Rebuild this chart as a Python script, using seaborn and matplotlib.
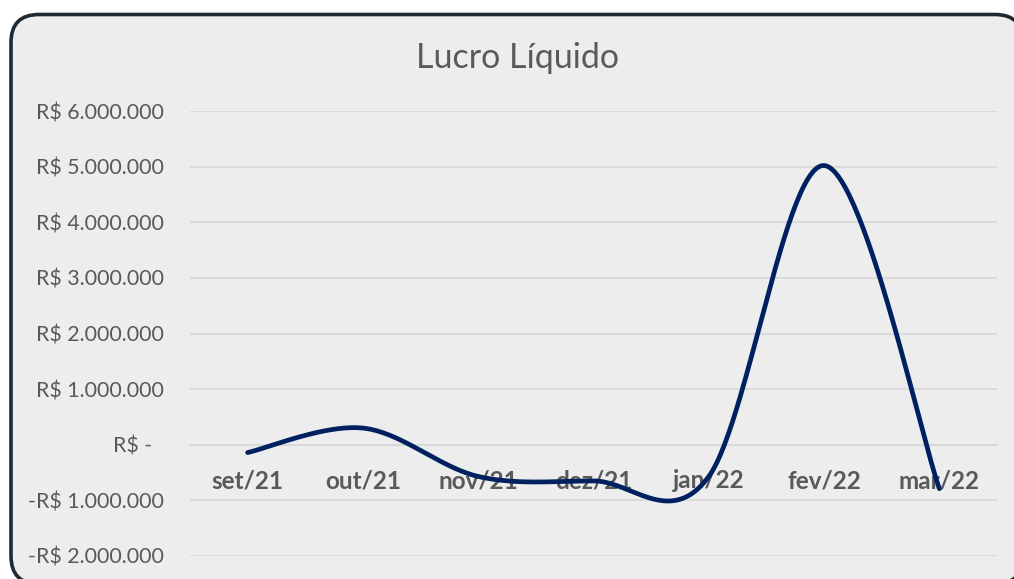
import numpy as np
import pandas as pd
import matplotlib
matplotlib.use("Agg")
import matplotlib.pyplot as plt
import seaborn as sns
from matplotlib.patches import FancyBboxPatch
from matplotlib.transforms import IdentityTransform
from matplotlib.ticker import FuncFormatter, MultipleLocator

# ---- data ----
months = ["set/21", "out/21", "nov/21", "dez/21", "jan/22", "fev/22", "mar/22"]
lucro = [-140000, 300000, -570000, -650000, -570000, 5020000, -790000]
title = "Lucro Líquido"

sns.set_style("white")
plt.rcParams['font.family'] = ['Lato', 'DejaVu Sans']

W, H = 1014, 579
fig = plt.figure(figsize=(W / 100, H / 100), dpi=100)
fig.patch.set_facecolor("white")

# rounded chart-area frame (pixels)
frame = FancyBboxPatch((11, H - 584), 1023 - 11, 584 - 14.5,
                       boxstyle="round,pad=0,rounding_size=28",
                       transform=IdentityTransform(), facecolor="#ededed",
                       edgecolor="#1f2a37", linewidth=2.6, clip_on=False, zorder=-10)
fig.patches.append(frame)

ax = fig.add_axes([190 / W, 1 - 556 / H, (997 - 190) / W, (556 - 111) / H])
ax.set_facecolor("none")
ax.set_zorder(5)


def excel_smooth(x, y, n=60):
    pts = np.column_stack([x, y]).astype(float)
    P = np.vstack([pts[0], pts, pts[-1]])
    out = []
    t = np.linspace(0, 1, n)[:, None]
    for i in range(len(pts) - 1):
        p0, p1, p2, p3 = P[i], P[i + 1], P[i + 2], P[i + 3]
        c1 = p1 + (p2 - p0) / 6
        c2 = p2 - (p3 - p1) / 6
        b = (1 - t) ** 3 * p1 + 3 * (1 - t) ** 2 * t * c1 + 3 * (1 - t) * t ** 2 * c2 + t ** 3 * p2
        out.append(b if i == 0 else b[1:])
    return np.vstack(out)


xi = np.arange(len(months))
curve = excel_smooth(xi, lucro)
df = pd.DataFrame({"x": curve[:, 0], "y": curve[:, 1]})
sns.lineplot(data=df, x="x", y="y", sort=False, estimator=None, ax=ax,
             color="#002060", linewidth=3.4, zorder=3)
ax.lines[-1].set_solid_capstyle("round")

ax.set_xlim(-0.5, len(months) - 0.5)
ax.set_ylim(-2000000, 6000000)
ax.yaxis.set_major_locator(MultipleLocator(1000000))


def fmt(v, pos):
    if abs(v) < 1:
        return "R$ -  "
    s = f"{abs(v):,.0f}".replace(",", ".")
    return ("-R$ " if v < 0 else "R$ ") + s


ax.yaxis.set_major_formatter(FuncFormatter(fmt))
ax.grid(False)
ax.yaxis.grid(True, color="#d9d9d9", linewidth=1.3, zorder=1)
for s in ["top", "right", "left"]:
    ax.spines[s].set_visible(False)
ax.spines["bottom"].set_position(("data", 0))
ax.spines["bottom"].set_color("#d9d9d9")
ax.spines["bottom"].set_linewidth(1.3)
ax.spines["bottom"].set_zorder(1)

ax.set_xticks(xi)
ax.set_xticklabels(months, fontweight="bold", fontsize=17.5, color="#595959")
ax.set_xticks(np.arange(len(months) + 1) - 0.5, minor=True)
ax.tick_params(axis="x", which="major", length=0, pad=17.5)
ax.tick_params(axis="x", which="minor", length=5.5, width=1.3, color="#d9d9d9", direction="out")
ax.tick_params(axis="y", length=0, pad=19, labelsize=15.4, labelcolor="#595959")
ax.set_xlabel("")
ax.set_ylabel("")

fig.text(518 / W, 1 - 58 / H, title, ha="center", va="center", fontsize=24.5,
         color="#595959")

fig.savefig("out.png", dpi=100, facecolor=fig.get_facecolor())
